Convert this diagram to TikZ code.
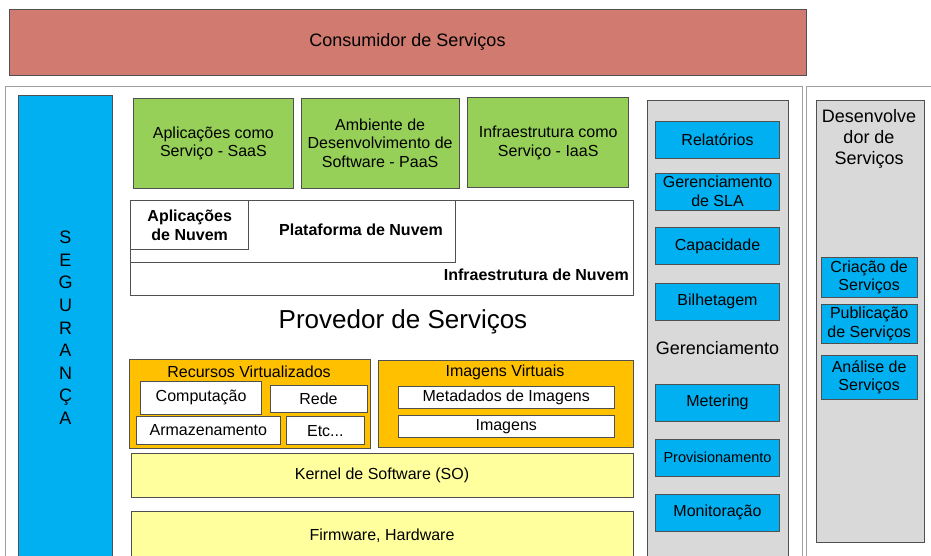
\documentclass[tikz,border=0pt]{standalone}
\usepackage{fontspec}
\setmainfont{Liberation Sans}
\usepackage{xcolor}
\usepackage{tikz}
\definecolor{consumerred}{RGB}{208,122,112}
\definecolor{secblue}{RGB}{0,176,240}
\definecolor{servgreen}{RGB}{150,208,88}
\definecolor{virtorange}{RGB}{255,192,0}
\definecolor{layeryellow}{RGB}{255,255,158}
\definecolor{panelgrey}{RGB}{217,217,217}
\definecolor{edgegrey}{RGB}{80,80,80}

\begin{document}
\begin{tikzpicture}[x=1pt, y=-1pt,
  boxnode/.style={rectangle, draw=edgegrey, line width=0.8pt, inner sep=0pt, align=center, font=\fontsize{16}{18.7}\selectfont},
  outernode/.style={rectangle, draw=gray!75, line width=0.8pt, fill=white, inner sep=0pt},
  greennode/.style={boxnode, fill=servgreen, minimum height=90},
  bluenode/.style={boxnode, fill=secblue, minimum width=124.4, minimum height=37},
  devnode/.style={boxnode, fill=secblue, minimum width=96.3},
  whitenode/.style={boxnode, fill=white},
  orangenode/.style={boxnode, fill=virtorange},
  yellownode/.style={boxnode, fill=layeryellow, minimum width=502},
  textnode/.style={inner sep=0pt, align=center, font=\fontsize{16}{18.7}\selectfont}]
\path[use as bounding box, clip] (0,0) rectangle (931,555);
\fill[white] (0,0) rectangle (931,555);

\node[boxnode, fill=consumerred, minimum width=797, minimum height=66, font=\fontsize{18}{21}\selectfont] (consumer) at (407.5, 42) {Consumidor de Serviços};

\node[outernode, minimum width=796.5, minimum height=473] (provider) at (403.75, 323) {};
\node[outernode, minimum width=128.5, minimum height=473] (developer) at (870.75, 323) {};

\node[boxnode, fill=secblue, minimum width=94.4, minimum height=464.3, font=\fontsize{18}{22.6}\selectfont] (security) at (65.5, 327.85) {S\\E\\G\\U\\R\\A\\N\\Ç\\A};

\node[greennode, minimum width=160.7] (saas) at (213.4, 143.5) {Aplicações como\\Serviço - SaaS};
\node[greennode, minimum width=158.3] (paas) at (380.15, 143.2) {Ambiente de\\Desenvolvimento de\\Software - PaaS};
\node[greennode, minimum width=161] (iaas) at (548.2, 142.8) {Infraestrutura como\\Serviço - IaaS};

\node[whitenode, minimum width=502.6, minimum height=94.3] (cloudinfra) at (382, 247.85) {};
\node[whitenode, minimum width=324.3, minimum height=61.6] (cloudplat) at (292.85, 231.5) {};
\node[whitenode, minimum width=118, minimum height=48.3, font=\bfseries\fontsize{16}{19}\selectfont] (cloudapps) at (189.7, 224.85) {Aplicações\\de Nuvem};
\node[textnode, font=\bfseries\fontsize{16}{19}\selectfont] (plattext) at (361, 230) {Plataforma de Nuvem};
\node[textnode, anchor=east, font=\bfseries\fontsize{16}{19}\selectfont] (infratext) at (629, 275) {Infraestrutura de Nuvem};

\node[textnode, font=\fontsize{26}{30}\selectfont] (providertext) at (403, 322) {Provedor de Serviços};

\node[orangenode, minimum width=240.8, minimum height=89.4] (resources) at (250, 404) {};
\node[textnode] (resourcestext) at (249, 371.7) {Recursos Virtualizados};
\node[whitenode, minimum width=121.4, minimum height=32.3] (compute) at (201.1, 397.85) {Computação};
\node[whitenode, minimum width=97, minimum height=27.7] (network) at (318.5, 398.85) {Rede};
\node[whitenode, minimum width=144.7, minimum height=27.3] (storage) at (208.35, 430.35) {Armazenamento};
\node[whitenode, minimum width=77.9, minimum height=28] (etc) at (325.35, 430.7) {Etc...};

\node[orangenode, minimum width=255, minimum height=87] (images) at (505.5, 404.2) {};
\node[textnode] (imagestext) at (505, 372) {Imagens Virtuais};
\node[whitenode, minimum width=216.7, minimum height=22] (metadata) at (506.25, 397.3) {Metadados de Imagens};
\node[whitenode, minimum width=216.7, minimum height=22.7] (imagefiles) at (506.25, 426.35) {Imagens};

\node[yellownode, minimum height=44.7] (kernel) at (382, 475.35) {Kernel de Software (SO)};
\node[yellownode, minimum height=49] (firmware) at (382, 535.5) {Firmware, Hardware};

\node[boxnode, fill=panelgrey, minimum width=141, minimum height=460] (management) at (717.8, 330) {};
\node[textnode, font=\fontsize{18}{21}\selectfont] (managementtext) at (717.5, 348.5) {Gerenciamento};
\node[bluenode] (reports) at (717.5, 140) {Relatórios};
\node[bluenode, minimum height=37.3] (sla) at (717.5, 191.6) {Gerenciamento\\de SLA};
\node[bluenode] (capacity) at (717.5, 246.3) {Capacidade};
\node[bluenode] (billing) at (717.5, 301.7) {Bilhetagem};
\node[bluenode] (metering) at (717.5, 402.5) {Metering};
\node[bluenode, font=\fontsize{14.5}{17}\selectfont] (provisioning) at (717.5, 457.7) {Provisionamento};
\node[bluenode] (monitoring) at (717.5, 512.7) {Monitoração};

\node[boxnode, fill=panelgrey, minimum width=108.3, minimum height=442.3] (devpanel) at (870.15, 321.15) {};
\node[textnode, font=\fontsize{18}{21}\selectfont] (devtext) at (869, 139.3) {Desenvolve\\dor de\\Serviços};
\node[devnode, minimum height=39.3] (creation) at (869.15, 277.35) {Criação de\\Serviços};
\node[devnode, minimum height=39.3] (publication) at (869.15, 323.65) {Publicação\\de Serviços};
\node[devnode, minimum height=44.3] (analysis) at (869.15, 377.15) {Análise de\\Serviços};

\end{tikzpicture}
\end{document}
